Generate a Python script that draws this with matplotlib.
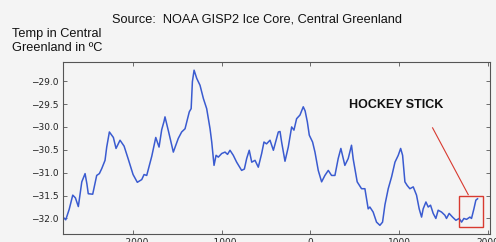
import matplotlib
matplotlib.use("Agg")
import matplotlib.pyplot as plt
from matplotlib.patches import Rectangle

# GISP2 temperature trace (year, deg C)
years = [-2790, -2759, -2720, -2680, -2650, -2617, -2578, -2541, -2520, -2505,
         -2455, -2410, -2380, -2353, -2316, -2297, -2267, -2222, -2192, -2147,
         -2101, -2053, -2000, -1952, -1902, -1876, -1846, -1789, -1744, -1707,
         -1677, -1651, -1640, -1600, -1546, -1490, -1452, -1414, -1395, -1366,
         -1345, -1331, -1312, -1282, -1245, -1207, -1170, -1132, -1113, -1087,
         -1064, -1039, -1000, -963, -935, -907, -870, -832, -776, -745,
         -719, -690, -662, -625, -588, -550, -524, -495, -456, -418,
         -362, -343, -325, -287, -250, -212, -186, -156, -118, -81,
         -60, -35, -13, 24, 51, 88, 126, 163, 201, 238,
         276, 313, 343, 388, 426, 463, 482, 527, 576, 614,
         651, 670, 707, 745, 783, 813, 840, 877, 915, 953,
         990, 1017, 1039, 1065, 1091, 1121, 1159, 1196, 1226, 1253,
         1271, 1302, 1328, 1354, 1384, 1414, 1440, 1478, 1516, 1534,
         1564, 1602, 1640, 1677, 1704, 1730, 1760, 1798, 1816, 1843,
         1865, 1884]
temps = [-31.97, -32.03, -31.80, -31.49, -31.55, -31.74, -31.20, -31.02, -31.25, -31.46,
         -31.47, -31.06, -31.02, -30.91, -30.73, -30.44, -30.11, -30.23, -30.47, -30.29,
         -30.42, -30.71, -31.04, -31.21, -31.15, -31.04, -31.06, -30.64, -30.23, -30.44,
         -30.06, -29.88, -29.78, -30.10, -30.55, -30.25, -30.11, -30.04, -29.89, -29.67,
         -29.60, -29.01, -28.76, -28.94, -29.09, -29.38, -29.60, -30.04, -30.33, -30.84,
         -30.62, -30.66, -30.58, -30.55, -30.60, -30.51, -30.62, -30.77, -30.95, -30.92,
         -30.69, -30.51, -30.77, -30.73, -30.88, -30.58, -30.33, -30.37, -30.29, -30.51,
         -30.11, -30.10, -30.33, -30.75, -30.44, -30.00, -30.07, -29.82, -29.74, -29.56,
         -29.65, -29.89, -30.18, -30.33, -30.55, -30.95, -31.20, -31.06, -30.95, -31.06,
         -31.06, -30.69, -30.47, -30.84, -30.69, -30.40, -30.70, -31.20, -31.35, -31.35,
         -31.79, -31.75, -31.86, -32.08, -32.15, -32.08, -31.70, -31.35, -31.09, -30.77,
         -30.62, -30.47, -30.62, -31.20, -31.28, -31.35, -31.31, -31.49, -31.79, -31.97,
         -31.79, -31.64, -31.75, -31.71, -31.89, -32.00, -31.82, -31.86, -31.93, -32.00,
         -31.89, -31.97, -32.04, -32.00, -32.08, -32.00, -32.02, -31.97, -32.00, -31.79,
         -31.60, -31.57]

xticks = [-2000, -1000, 0, 1000, 2000]
yticks = [-32.0, -31.5, -31.0, -30.5, -30.0, -29.5, -29.0]

# hockey stick box (years, temps) and pointer line
box_x = [1677, 1944]
box_y = [-32.19, -31.52]
ptr_x = [1377, 1779]
ptr_y = [-30.02, -31.48]

bg = "#f4f4f4"
fig = plt.figure(figsize=(4.96, 2.42), dpi=100, facecolor=bg)
ax = fig.add_axes([0.127, 0.033, 0.861, 0.711], facecolor=bg)

ax.plot(years, temps, color="#3a5bd0", lw=1.1)

ax.add_patch(Rectangle((box_x[0], box_y[0]), box_x[1] - box_x[0], box_y[1] - box_y[0],
                       fill=False, edgecolor="#d83a30", lw=1.0, zorder=3))
ax.plot(ptr_x, ptr_y, color="#d83a30", lw=0.8)
ax.text(964, -29.53, "HOCKEY STICK", fontsize=9, fontweight="bold",
        family="Liberation Sans", ha="center", va="center", color="#111111")

ax.set_xlim(-2790, 2025)
ax.set_ylim(-32.34, -28.58)
ax.set_xticks(xticks)
ax.set_yticks(yticks)
ax.set_xticklabels([f"{v}".replace("-", "\u2212") for v in xticks])
ax.set_yticklabels([f"{v:.1f}".replace("-", "\u2212") for v in yticks])
ax.tick_params(direction="in", top=True, right=True, length=3, width=0.6,
               labelsize=6.5, labelcolor="#222222", color="#555555", pad=3)
for s in ax.spines.values():
    s.set_color("#555555")
    s.set_linewidth(0.8)

fig.text(0.226, 0.921, "Source:  NOAA GISP2 Ice Core, Central Greenland",
         fontsize=9.2, family="Liberation Sans", va="center", color="#111111")
fig.text(0.024, 0.83, "Temp in Central\nGreenland in \u00baC", fontsize=9.2,
         family="Liberation Sans", va="center", linespacing=1.15, color="#111111")

fig.savefig("out.png", dpi=100, facecolor=bg)
